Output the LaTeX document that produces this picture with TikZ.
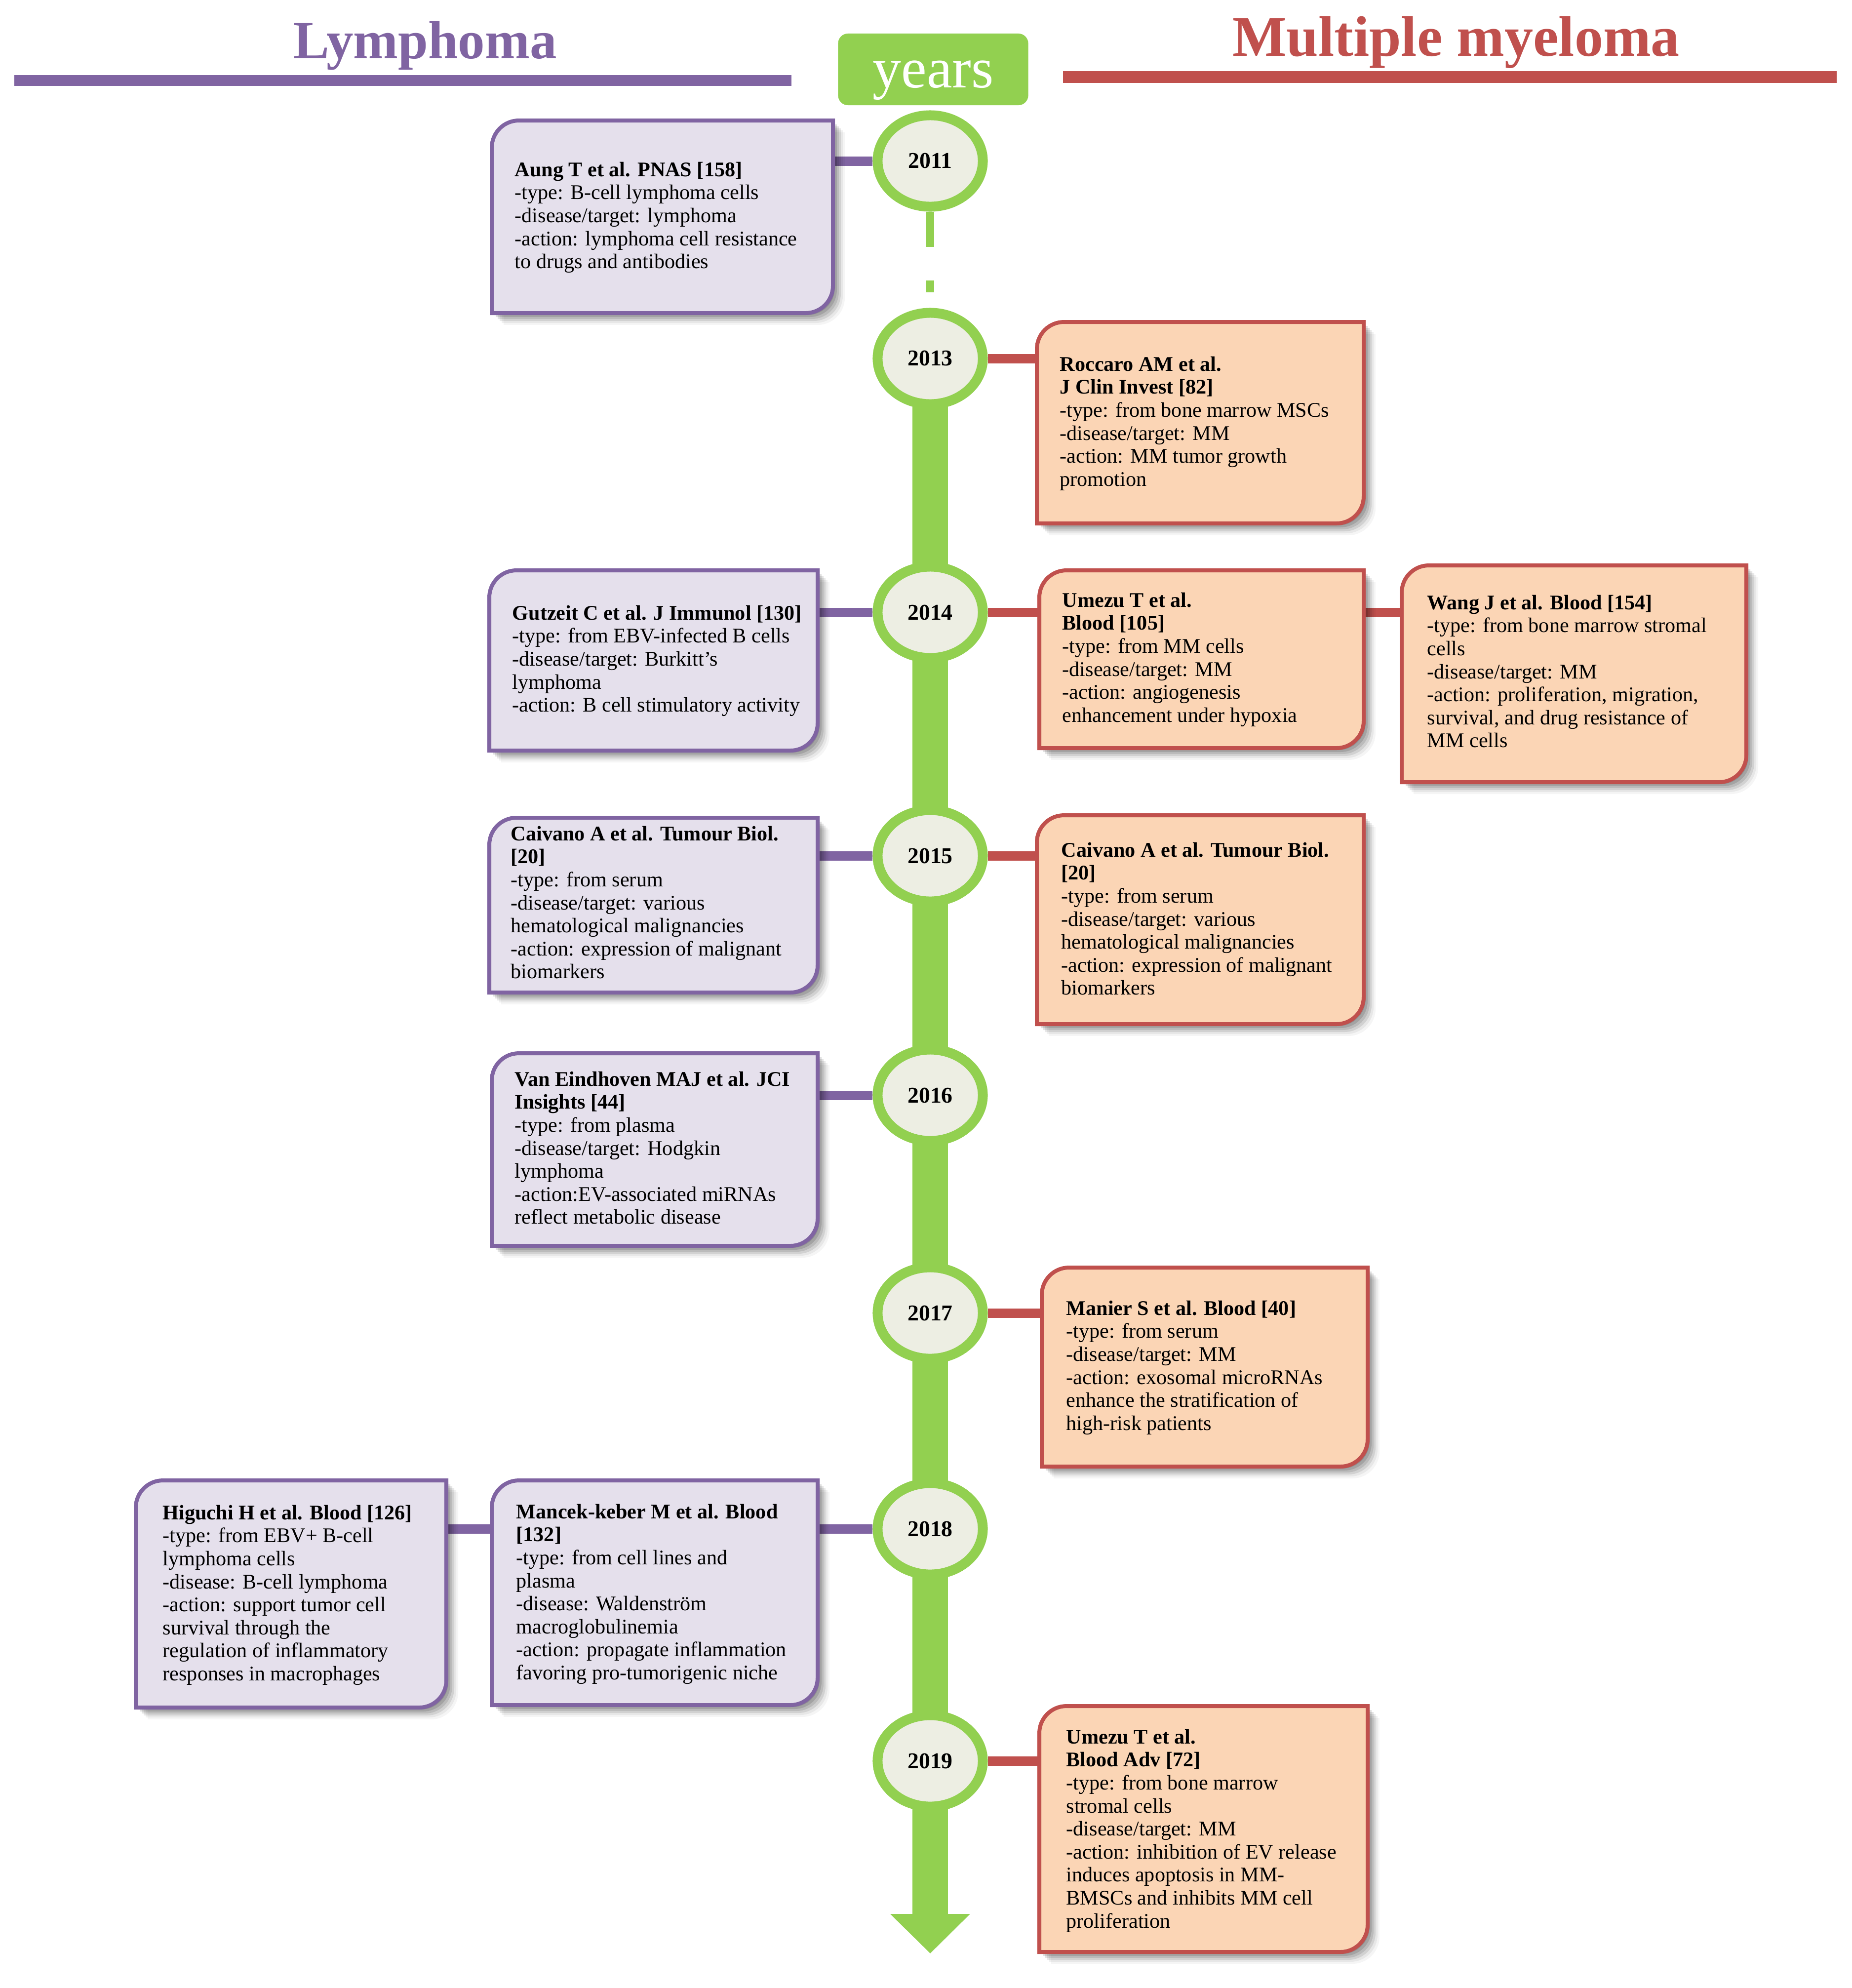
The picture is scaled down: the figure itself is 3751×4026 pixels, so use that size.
\documentclass[tikz,border=0pt]{standalone}
\usepackage{fontspec}
\setmainfont{Liberation Serif}
\usetikzlibrary{calc,arrows.meta,shapes.geometric}
\definecolor{lpurple}{HTML}{8064A2}
\definecolor{lred}{HTML}{C0504D}
\definecolor{lgreen}{HTML}{92D050}
\definecolor{lavfill}{HTML}{E5E0EC}
\definecolor{peachfill}{HTML}{FBD5B5}
\definecolor{ringfill}{HTML}{EDEEE3}
\pgfdeclarelayer{bg}
\pgfsetlayers{bg,main}
\def\evr{0.55cm}
% invisible named box node from corners (px units)
\newcommand\evbox[5]{\node[inner sep=0,outer sep=0,minimum width={(#4-#2)*0.01cm},minimum height={(#5-#3)*0.01cm}] (#1) at ({(#2+#4)/2},{(#3+#5)/2}) {};}
% shadow + shape with rounded top-left and bottom-right corners
\newcommand\evshape[3]{%
  \foreach \d/\o in {0.04/0.12,0.08/0.12,0.12/0.11,0.16/0.09,0.20/0.06,0.24/0.04}{%
    \fill[black,opacity=\o] let \p1=(#1.north west),\p2=(#1.south east) in
      (\x1+\d cm,\y2-\d cm) -- (\x1+\d cm,\y1-\d cm-\evr)
      arc[start angle=180,end angle=90,radius=\evr]
      -- (\x2+\d cm,\y1-\d cm) -- (\x2+\d cm,\y2-\d cm+\evr)
      arc[start angle=0,end angle=-90,radius=\evr] -- cycle;
  }%
  \draw[fill=#2,draw=#3,line width=0.08cm] let \p1=(#1.north west),\p2=(#1.south east) in
      (\x1,\y2) -- (\x1,\y1-\evr)
      arc[start angle=180,end angle=90,radius=\evr]
      -- (\x2,\y1) -- (\x2,\y2+\evr)
      arc[start angle=0,end angle=-90,radius=\evr] -- cycle;
}
\begin{document}
\begin{tikzpicture}[x=0.01cm,y=-0.01cm,
  txt/.style={anchor=north west,inner sep=0,align=left,font=\fontsize{12}{13.25}\selectfont},
  yearc/.style={ellipse,draw=lgreen,line width=0.2cm,fill=ringfill,minimum width=2.13cm,minimum height=1.85cm,inner sep=0,font=\bfseries\fontsize{13}{15}\selectfont},
  pcon/.style={draw=lpurple,line width=0.19cm},
  rcon/.style={draw=lred,line width=0.19cm},
  tline/.style={draw=lgreen,line width=0.16cm}]
\useasboundingbox (0,0) rectangle (3751,4026);

% ---------- header ----------
\coordinate (pl1) at (29,163);
\coordinate (pl2) at (1603,163);
\coordinate (rl1) at (2153,156);
\coordinate (rl2) at (3720,156);
\draw[lpurple,line width=0.22cm] (pl1) -- (pl2);
\draw[lred,line width=0.24cm] (rl1) -- (rl2);
\node[anchor=base,text=lpurple,font=\bfseries\fontsize{31}{36}\selectfont,inner sep=0] (lymph) at (861,118) {Lymphoma};
\node[anchor=base,text=lred,font=\bfseries\fontsize{33}{38}\selectfont,inner sep=0] (mm) at (2949,113) {Multiple myeloma};
\node[fill=lgreen,rounded corners=0.2cm,minimum width=3.85cm,minimum height=1.45cm,inner sep=0] (yearsbox) at (1890,140.5) {};
\node[anchor=base,text=white,font=\fontsize{33}{40}\selectfont,inner sep=0] (yearslbl) at (1890,177) {years};

% ---------- year circles ----------
\node[yearc] (y2011) at (1884,326) {2011};
\node[yearc] (y2013) at (1884,726) {2013};
\node[yearc] (y2014) at (1884,1240) {2014};
\node[yearc] (y2015) at (1884,1733) {2015};
\node[yearc] (y2016) at (1884,2218) {2016};
\node[yearc] (y2017) at (1884,2659) {2017};
\node[yearc] (y2018) at (1884,3096) {2018};
\node[yearc] (y2019) at (1884,3566) {2019};
\coordinate (thinend) at (1884,500);
\coordinate (dasha) at (1884,568);
\coordinate (dashb) at (1884,592);
\coordinate (tip) at (1884,3956);

% ---------- boxes ----------
\evbox{aung}{996}{244}{1687}{634}
\evbox{gutzeit}{991}{1155}{1656}{1520}
\evbox{caivl}{991}{1656}{1656}{2010}
\evbox{vaneind}{996}{2133}{1656}{2523}
\evbox{mancek}{996}{2998}{1656}{3453}
\evbox{higuchi}{275}{2998}{904}{3458}
\evbox{roccaro}{2100}{652}{2762}{1060}
\evbox{umezua}{2105}{1155}{2762}{1515}
\evbox{wang}{2839}{1145}{3537}{1584}
\evbox{caivr}{2100}{1651}{2762}{2074}
\evbox{manier}{2110}{2567}{2770}{2970}
\evbox{umezub}{2105}{3455}{2770}{3953}

\evshape{aung}{lavfill}{lpurple}
\evshape{gutzeit}{lavfill}{lpurple}
\evshape{caivl}{lavfill}{lpurple}
\evshape{vaneind}{lavfill}{lpurple}
\evshape{mancek}{lavfill}{lpurple}
\evshape{higuchi}{lavfill}{lpurple}
\evshape{roccaro}{peachfill}{lred}
\evshape{umezua}{peachfill}{lred}
\evshape{wang}{peachfill}{lred}
\evshape{caivr}{peachfill}{lred}
\evshape{manier}{peachfill}{lred}
\evshape{umezub}{peachfill}{lred}

% ---------- texts ----------
\node[txt] (aung-t) at (1042,324) {\strut\textbf{Aung  T et al. PNAS [158]}\\-type: B-cell lymphoma cells\\-disease/target: lymphoma\\-action: lymphoma cell resistance\\to drugs and antibodies};
\node[txt] (gutzeit-t) at (1037,1222) {\strut\textbf{Gutzeit C et al. J Immunol  [130]}\\-type: from  EBV-infected B cells\\-disease/target: Burkitt's\\lymphoma\\-action: B cell stimulatory activity};
\node[txt] (caivl-t) at (1034,1669) {\strut\textbf{Caivano A et al. Tumour Biol.}\\\textbf{[20]}\\-type: from serum\\-disease/target: various\\hematological malignancies\\-action: expression of malignant\\biomarkers};
\node[txt] (vaneind-t) at (1042,2166) {\strut\textbf{Van  Eindhoven MAJ et al. JCI}\\\textbf{Insights [44]}\\-type: from plasma\\-disease/target: Hodgkin\\lymphoma\\-action:EV-associated miRNAs\\reflect metabolic disease};
\node[txt] (mancek-t) at (1045,3042) {\strut\textbf{Mancek-keber M et al. Blood}\\\textbf{[132]}\\-type:  from cell lines and\\plasma\\-disease:  Waldenström\\macroglobulinemia\\-action: propagate inflammation\\favoring pro-tumorigenic niche};
\node[txt] (higuchi-t) at (329,3044) {\strut\textbf{Higuchi H et al. Blood [126]}\\-type: from EBV+ B-cell\\lymphoma cells\\-disease: B-cell lymphoma\\-action:  support tumor cell\\survival through the\\regulation of inflammatory\\responses in macrophages};
\node[txt] (roccaro-t) at (2146,718) {\strut\textbf{Roccaro AM et al.}\\\textbf{J Clin  Invest [82]}\\-type: from bone marrow  MSCs\\-disease/target: MM\\-action: MM  tumor growth\\promotion};
\node[txt] (umezua-t) at (2151,1196) {\strut\textbf{Umezu T et al.}\\\textbf{Blood [105]}\\-type: from MM  cells\\-disease/target: MM\\-action: angiogenesis\\enhancement under hypoxia};
\node[txt] (wang-t) at (2890,1201) {\strut\textbf{Wang J et al. Blood [154]}\\-type: from bone marrow stromal\\cells\\-disease/target: MM\\-action: proliferation, migration,\\survival, and drug resistance of\\MM  cells};
\node[txt] (caivr-t) at (2149,1702) {\strut\textbf{Caivano  A et al. Tumour Biol.}\\\textbf{[20]}\\-type: from serum\\-disease/target: various\\hematological malignancies\\-action: expression  of malignant\\biomarkers};
\node[txt] (manier-t) at (2159,2630) {\strut\textbf{Manier S et al. Blood  [40]}\\-type: from serum\\-disease/target: MM\\-action: exosomal microRNAs\\enhance the stratification of\\high-risk patients};
\node[txt] (umezub-t) at (2159,3498) {\strut\textbf{Umezu T et al.}\\\textbf{Blood Adv  [72]}\\-type: from bone marrow\\stromal cells\\-disease/target: MM\\-action:  inhibition of EV  release\\induces apoptosis in MM-\\BMSCs and inhibits MM cell\\proliferation};

% ---------- background: timeline and connectors ----------
\begin{pgfonlayer}{bg}
\draw[tline] (y2011.south) -- (thinend);
\draw[tline] (dasha) -- (dashb);
\draw[lgreen,line width=0.72cm,-{Triangle[width=1.57cm,length=0.8cm]}] (y2013.center) -- (tip);
\draw[pcon] (y2011) -- (aung.east |- y2011);
\draw[pcon] (y2014) -- (gutzeit.east |- y2014);
\draw[pcon] (y2015) -- (caivl.east |- y2015);
\draw[pcon] (y2016) -- (vaneind.east |- y2016);
\draw[pcon] (y2018) -- (mancek.east |- y2018);
\draw[pcon] (higuchi.east |- y2018) -- (mancek.west |- y2018);
\draw[rcon] (y2013) -- (roccaro.west |- y2013);
\draw[rcon] (y2014) -- (umezua.west |- y2014);
\draw[rcon] (umezua.east |- y2014) -- (wang.west |- y2014);
\draw[rcon] (y2015) -- (caivr.west |- y2015);
\draw[rcon] (y2017) -- (manier.west |- y2017);
\draw[rcon] (y2019) -- (umezub.west |- y2019);
\end{pgfonlayer}
\end{tikzpicture}
\end{document}
